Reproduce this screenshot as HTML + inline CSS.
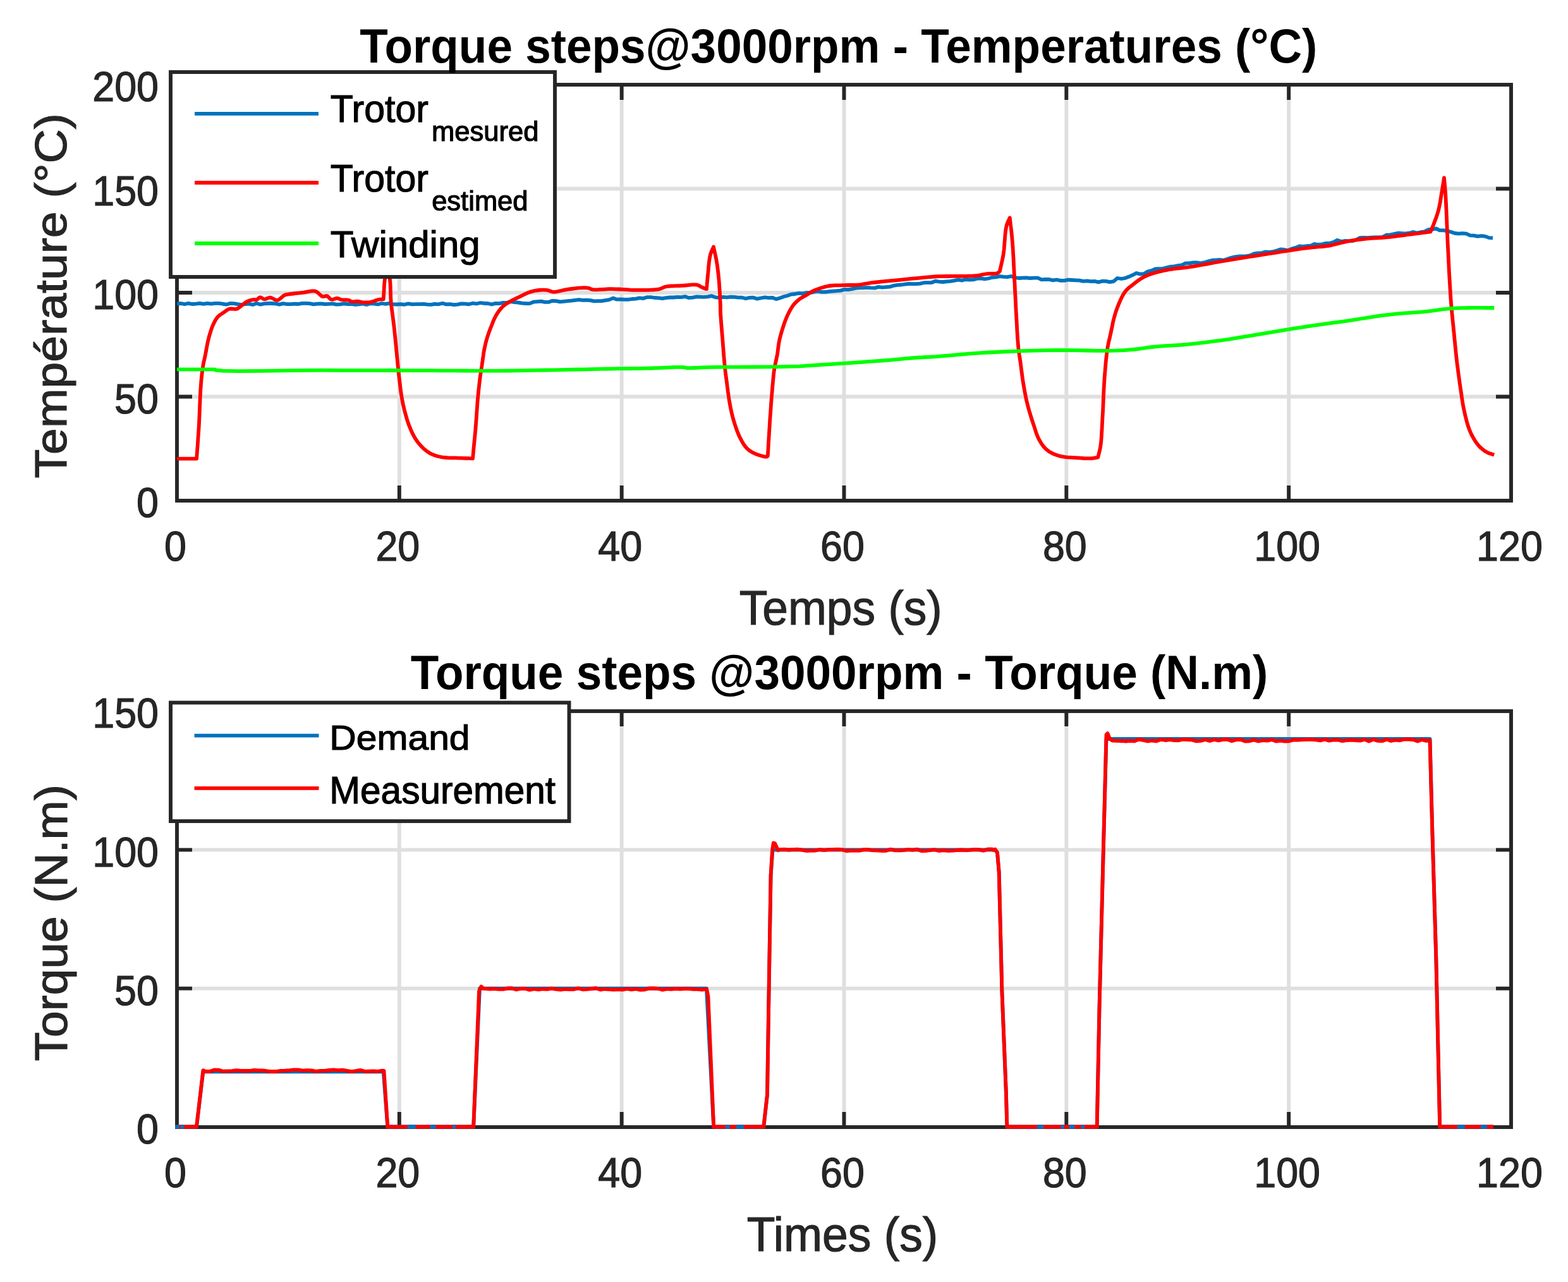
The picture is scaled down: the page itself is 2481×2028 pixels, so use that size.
<!DOCTYPE html>
<html><head><meta charset="utf-8"><title>Torque steps@3000rpm</title>
<style>
html,body{margin:0;padding:0;background:#fff;}
body{width:2481px;height:2028px;overflow:hidden;}
svg{display:block;}
text{font-family:"Liberation Sans",sans-serif;font-size:200px;}
</style></head><body>
<svg width="2481" height="2028" viewBox="0 0 2481 2028">
<defs>
<clipPath id="c1"><rect x="277.0" y="131.0" width="2117.0" height="664.0"/></clipPath>
<clipPath id="c2"><rect x="277.0" y="1122.0" width="2117.0" height="664.0"/></clipPath>
</defs>
<rect width="2481" height="2028" fill="#fff"/>
<path d="M631.83,134.0V792.0M983.67,134.0V792.0M1335.50,134.0V792.0M1687.33,134.0V792.0M2039.17,134.0V792.0M280.0,627.50H2391.0M280.0,463.00H2391.0M280.0,298.50H2391.0" stroke="#262626" stroke-opacity="0.15" stroke-width="5.9" fill="none"/>
<path d="M631.83,792.0V768.0M631.83,134.0V158.0M983.67,792.0V768.0M983.67,134.0V158.0M1335.50,792.0V768.0M1335.50,134.0V158.0M1687.33,792.0V768.0M1687.33,134.0V158.0M2039.17,792.0V768.0M2039.17,134.0V158.0M280.0,627.50H304.0M2391.0,627.50H2367.0M280.0,463.00H304.0M2391.0,463.00H2367.0M280.0,298.50H304.0M2391.0,298.50H2367.0" stroke="#262626" stroke-width="5.9" fill="none"/>
<rect x="280.0" y="134.0" width="2111.0" height="658.0" fill="none" stroke="#262626" stroke-width="5.9" stroke-linejoin="miter"/>
<path d="M631.83,1125.0V1783.0M983.67,1125.0V1783.0M1335.50,1125.0V1783.0M1687.33,1125.0V1783.0M2039.17,1125.0V1783.0M280.0,1563.67H2391.0M280.0,1344.33H2391.0" stroke="#262626" stroke-opacity="0.15" stroke-width="5.9" fill="none"/>
<path d="M631.83,1783.0V1759.0M631.83,1125.0V1149.0M983.67,1783.0V1759.0M983.67,1125.0V1149.0M1335.50,1783.0V1759.0M1335.50,1125.0V1149.0M1687.33,1783.0V1759.0M1687.33,1125.0V1149.0M2039.17,1783.0V1759.0M2039.17,1125.0V1149.0M280.0,1563.67H304.0M2391.0,1563.67H2367.0M280.0,1344.33H304.0M2391.0,1344.33H2367.0" stroke="#262626" stroke-width="5.9" fill="none"/>
<rect x="280.0" y="1125.0" width="2111.0" height="658.0" fill="none" stroke="#262626" stroke-width="5.9" stroke-linejoin="miter"/>
<g clip-path="url(#c1)">
<polyline points="280.0,480.5 286.0,480.0 292.0,481.2 298.0,479.8 304.0,481.0 310.0,480.6 316.0,479.8 322.0,480.9 328.0,479.8 334.0,480.7 340.0,479.8 346.0,479.9 352.0,480.7 358.0,481.7 364.0,480.0 370.0,480.2 376.0,481.2 382.0,482.0 388.0,481.1 394.0,480.6 400.0,482.0 406.0,479.8 412.0,481.7 418.0,480.4 424.0,480.0 430.0,480.0 436.0,480.4 442.0,481.6 448.0,480.1 454.0,481.1 460.0,481.2 466.0,480.6 472.0,481.0 478.0,479.8 484.0,479.8 490.0,480.2 496.0,481.3 502.0,480.7 508.0,480.4 514.0,481.1 520.0,480.8 526.0,480.4 532.0,481.6 538.0,481.4 544.0,480.3 550.0,481.1 556.0,480.9 562.0,481.8 568.0,481.4 574.0,480.4 580.0,482.0 586.0,480.0 592.0,480.7 598.0,481.5 604.0,480.0 610.0,480.8 616.0,479.8 622.0,481.3 628.0,481.5 634.0,481.1 640.0,481.8 646.0,480.4 652.0,481.3 658.0,481.1 664.0,481.1 670.0,480.8 676.0,481.7 682.0,481.9 688.0,480.8 694.0,481.3 700.0,479.8 706.0,481.4 712.0,481.2 718.0,482.1 724.0,481.6 730.0,480.4 736.0,480.6 742.0,481.3 748.0,479.7 754.0,480.5 760.0,479.0 766.0,479.9 772.0,480.0 778.0,481.5 784.0,479.9 790.0,480.1 796.0,478.8 802.0,478.8 808.0,477.1 814.0,478.1 820.0,478.6 826.0,479.7 832.0,480.0 838.0,480.1 844.0,477.7 850.0,477.1 856.0,476.7 862.0,477.8 868.0,477.9 874.0,475.8 880.0,476.1 886.0,477.4 892.0,476.8 898.0,476.2 904.0,475.7 910.0,474.8 916.0,474.1 922.0,474.9 928.0,474.7 934.0,475.1 940.0,476.4 946.0,476.1 952.0,476.1 958.0,475.2 964.0,474.2 970.0,471.6 976.0,473.7 982.0,473.5 988.0,473.9 994.0,473.8 1000.0,473.0 1006.0,472.7 1012.0,471.4 1018.0,472.1 1024.0,470.1 1030.0,470.2 1036.0,471.0 1042.0,471.3 1048.0,472.2 1054.0,471.1 1060.0,470.5 1066.0,470.5 1072.0,469.9 1078.0,470.1 1084.0,469.1 1090.0,471.2 1096.0,470.6 1102.0,469.4 1108.0,469.7 1114.0,469.9 1120.0,469.4 1126.0,468.2 1132.0,470.3 1138.0,470.9 1144.0,469.9 1150.0,470.3 1156.0,469.6 1162.0,469.8 1168.0,470.6 1174.0,470.7 1180.0,472.3 1186.0,470.9 1192.0,470.7 1198.0,472.7 1204.0,471.5 1210.0,470.4 1216.0,471.1 1222.0,470.8 1228.0,473.1 1234.0,471.5 1240.0,469.3 1246.0,467.7 1252.0,465.6 1258.0,465.0 1264.0,463.8 1270.0,464.4 1276.0,463.0 1282.0,463.1 1288.0,461.6 1294.0,460.9 1300.0,461.9 1306.0,461.8 1312.0,461.1 1318.0,460.6 1324.0,460.2 1330.0,459.6 1336.0,457.9 1342.0,458.1 1348.0,457.1 1354.0,455.8 1360.0,455.3 1366.0,455.4 1372.0,454.9 1378.0,455.4 1384.0,455.6 1390.0,453.9 1396.0,454.6 1402.0,454.2 1408.0,453.7 1414.0,451.8 1420.0,450.9 1426.0,450.5 1432.0,449.7 1438.0,449.0 1444.0,449.2 1450.0,449.2 1456.0,448.6 1462.0,447.2 1468.0,447.1 1474.0,447.0 1480.0,444.7 1486.0,445.7 1492.0,446.0 1498.0,445.3 1504.0,444.9 1510.0,443.9 1516.0,442.7 1522.0,443.6 1528.0,442.0 1534.0,442.5 1540.0,442.4 1546.0,440.6 1552.0,440.3 1558.0,441.3 1564.0,440.5 1570.0,438.8 1576.0,438.3 1582.0,437.2 1588.0,437.9 1594.0,438.1 1600.0,437.0 1606.0,439.2 1612.0,440.0 1618.0,439.6 1624.0,439.3 1630.0,440.2 1636.0,439.6 1642.0,439.7 1648.0,442.4 1654.0,442.0 1660.0,442.0 1666.0,443.4 1672.0,442.5 1678.0,443.8 1684.0,443.9 1690.0,442.7 1696.0,443.0 1702.0,443.3 1708.0,443.6 1714.0,444.8 1720.0,444.3 1726.0,445.1 1732.0,444.8 1738.0,446.4 1744.0,444.7 1750.0,444.8 1756.0,446.1 1762.0,445.1 1768.0,440.0 1774.0,441.0 1780.0,440.0 1786.0,437.8 1792.0,435.2 1798.0,432.0 1804.0,433.6 1810.0,433.2 1816.0,429.5 1822.0,428.1 1828.0,425.5 1834.0,425.2 1840.0,424.8 1846.0,423.4 1852.0,421.9 1858.0,421.4 1864.0,420.2 1870.0,419.4 1876.0,416.3 1882.0,416.4 1888.0,415.4 1894.0,415.3 1900.0,416.3 1906.0,415.2 1912.0,413.3 1918.0,411.7 1924.0,411.3 1930.0,410.8 1936.0,411.8 1942.0,409.8 1948.0,407.7 1954.0,406.3 1960.0,405.5 1966.0,405.5 1972.0,405.2 1978.0,404.1 1984.0,401.4 1990.0,400.4 1996.0,400.3 2002.0,398.5 2008.0,398.8 2014.0,398.2 2020.0,396.6 2026.0,394.5 2032.0,395.0 2038.0,396.2 2044.0,393.5 2050.0,391.9 2056.0,389.5 2062.0,389.8 2068.0,389.2 2074.0,388.6 2080.0,386.0 2086.0,387.0 2092.0,386.4 2098.0,384.8 2104.0,384.8 2110.0,383.1 2116.0,379.9 2122.0,382.0 2128.0,381.0 2134.0,381.3 2140.0,381.1 2146.0,379.3 2152.0,376.2 2158.0,375.9 2164.0,376.1 2170.0,375.7 2176.0,375.4 2182.0,375.4 2188.0,374.8 2194.0,371.6 2200.0,371.4 2206.0,370.1 2212.0,368.7 2218.0,369.1 2224.0,369.4 2230.0,368.7 2236.0,367.0 2242.0,368.6 2248.0,367.2 2254.0,366.4 2260.0,363.2 2266.0,362.8 2272.0,361.5 2278.0,364.3 2284.0,364.3 2290.0,365.3 2296.0,367.0 2302.0,369.0 2308.0,369.6 2314.0,369.1 2320.0,369.7 2326.0,372.4 2332.0,372.6 2338.0,373.8 2344.0,373.2 2350.0,373.9 2356.0,376.1 2362.0,376.3" fill="none" stroke="#0072BD" stroke-width="5.8" stroke-linejoin="round" stroke-linecap="butt" />
<polyline points="280.0,725.6 311.1,725.6 311.7,717.5 312.3,709.5 312.9,701.6 313.4,693.5 314.0,685.2 314.6,676.5 315.2,665.3 315.7,653.3 316.2,640.9 316.7,628.7 317.3,617.4 318.0,607.4 318.5,601.6 319.0,596.1 319.6,591.0 320.2,586.2 320.8,581.7 321.5,577.4 322.0,574.4 322.6,571.7 323.2,569.1 323.8,566.6 324.4,564.0 324.9,561.3 325.5,558.3 326.1,555.1 326.6,552.0 327.2,548.8 327.8,545.8 328.4,542.9 328.9,540.4 329.4,538.1 330.0,535.9 330.5,533.6 331.2,531.4 331.8,529.0 332.7,526.4 333.5,523.6 334.5,520.8 335.4,518.1 336.5,515.4 337.6,512.9 338.6,510.8 339.7,508.7 340.8,506.7 341.9,504.8 343.2,503.0 344.5,501.4 345.9,500.0 347.4,498.8 348.9,497.6 350.5,496.6 352.1,495.5 353.7,494.5 355.2,493.4 356.7,492.3 358.2,491.2 359.7,490.2 361.3,489.3 362.9,488.7 364.8,488.4 366.8,488.5 368.8,488.7 370.8,488.9 372.7,489.0 374.5,488.7 375.8,488.2 376.9,487.5 378.0,486.7 379.1,485.9 380.2,485.0 381.4,484.1 382.8,483.0 384.3,481.8 385.9,480.5 387.4,479.3 389.0,478.1 390.6,477.2 392.1,476.5 393.7,475.9 395.2,475.3 396.8,474.9 398.3,474.5 399.8,474.2 401.0,474.0 402.3,474.0 403.4,474.1 404.6,474.1 405.7,474.0 406.7,473.7 407.6,473.3 408.3,472.6 409.0,471.8 409.8,471.1 410.5,470.6 411.3,470.3 412.4,470.4 413.5,470.9 414.6,471.6 415.8,472.4 417.0,473.0 418.2,473.3 419.7,473.1 421.2,472.7 422.7,472.0 424.3,471.4 425.9,470.9 427.5,470.7 429.3,471.1 431.2,472.0 433.2,473.0 435.2,474.1 437.1,474.8 439.0,474.9 440.9,474.2 442.8,472.9 444.7,471.3 446.5,469.6 448.5,468.0 450.5,466.8 452.7,466.1 454.9,465.6 457.2,465.3 459.6,465.0 461.9,464.8 464.3,464.5 466.9,464.2 469.6,463.9 472.3,463.6 475.0,463.3 477.8,463.0 480.5,462.7 483.3,462.2 486.2,461.7 489.1,461.2 491.9,460.7 494.5,460.4 496.6,460.4 497.5,460.5 498.3,460.6 499.0,460.8 499.7,461.0 500.4,461.3 501.2,461.8 502.6,462.7 504.1,464.1 505.7,465.6 507.3,467.1 508.9,468.4 510.4,469.1 511.6,469.2 512.8,469.0 513.9,468.7 515.1,468.3 516.2,468.1 517.3,468.2 518.5,468.8 519.6,469.8 520.7,471.0 521.8,472.2 523.0,473.1 524.2,473.7 525.7,473.8 527.2,473.5 528.8,473.0 530.4,472.4 532.0,472.0 533.5,471.9 534.7,472.1 535.8,472.4 536.9,472.9 538.0,473.4 539.1,473.9 540.4,474.2 542.2,474.4 544.2,474.5 546.3,474.5 548.3,474.5 550.3,474.6 551.9,474.9 552.8,475.2 553.5,475.6 554.2,476.1 554.9,476.5 555.6,476.9 556.5,477.2 557.8,477.3 559.3,477.3 560.9,477.1 562.5,476.9 564.1,476.7 565.7,476.7 567.2,476.9 568.8,477.2 570.3,477.5 571.8,477.9 573.3,478.2 574.9,478.3 576.8,478.4 578.7,478.5 580.6,478.5 582.6,478.4 584.5,478.2 586.5,477.9 588.4,477.4 590.4,476.8 592.3,476.1 594.2,475.3 596.1,474.7 598.0,474.2 599.5,473.9 601.0,473.7 602.4,473.6 603.8,473.5 605.3,473.4 606.7,473.3 607.1,467.9 607.4,462.3 607.7,456.7 608.0,451.3 608.4,446.2 609.0,441.5 609.6,438.4 610.2,435.5 610.9,432.8 611.6,430.2 612.3,427.6 612.9,424.9 613.6,427.6 614.3,430.2 615.0,432.8 615.7,435.4 616.3,438.3 616.9,441.5 617.4,446.8 617.7,452.7 617.9,459.0 618.1,465.5 618.3,472.0 618.7,478.3 619.3,484.4 620.1,490.5 620.9,496.5 621.7,502.6 622.5,508.8 623.3,515.2 624.1,522.7 624.9,530.4 625.7,538.3 626.5,546.2 627.2,553.9 627.9,561.3 628.5,567.3 629.1,573.2 629.6,578.9 630.2,584.5 630.7,590.2 631.4,595.9 632.1,601.7 632.8,607.6 633.5,613.5 634.2,619.3 635.1,625.0 636.0,630.4 636.8,634.9 637.7,639.3 638.7,643.5 639.6,647.7 640.7,651.7 641.8,655.8 642.8,659.4 643.8,662.9 644.9,666.4 646.1,669.8 647.3,673.2 648.7,676.5 650.0,679.7 651.4,682.9 652.9,686.1 654.5,689.1 656.1,692.1 657.9,694.9 659.6,697.5 661.5,700.0 663.4,702.3 665.4,704.6 667.4,706.8 669.4,708.8 671.1,710.3 672.9,711.8 674.7,713.2 676.4,714.5 678.2,715.7 680.0,716.8 681.5,717.7 683.0,718.4 684.5,719.0 686.0,719.6 687.6,720.2 689.2,720.7 691.3,721.4 693.5,722.0 695.8,722.5 698.2,723.0 700.6,723.4 703.0,723.7 705.9,724.0 708.9,724.2 711.9,724.3 715.0,724.3 718.2,724.3 721.5,724.4 725.6,724.6 730.0,724.7 734.4,724.9 739.0,725.0 743.5,725.2 748.0,725.3 748.8,717.2 749.5,709.0 750.3,700.8 751.1,692.7 751.9,684.6 752.6,676.5 753.2,668.6 753.8,660.7 754.3,652.9 754.9,645.1 755.4,637.6 756.0,630.4 756.6,624.6 757.1,619.0 757.7,613.6 758.3,608.3 758.9,603.1 759.5,598.2 760.0,594.1 760.6,590.2 761.2,586.4 761.8,582.6 762.4,578.9 762.9,575.1 763.5,571.2 764.0,567.3 764.6,563.4 765.1,559.5 765.7,555.8 766.4,552.1 767.1,548.9 767.8,545.7 768.5,542.6 769.3,539.6 770.1,536.6 771.0,533.6 771.9,530.9 772.8,528.2 773.7,525.5 774.7,522.9 775.7,520.2 776.8,517.5 778.0,514.5 779.2,511.3 780.5,508.1 781.8,505.0 783.3,502.0 784.8,499.1 786.4,496.5 788.0,494.0 789.7,491.6 791.5,489.4 793.3,487.2 795.2,485.3 797.0,483.7 798.8,482.2 800.7,480.9 802.6,479.7 804.6,478.4 806.7,477.2 809.2,475.8 811.8,474.4 814.5,473.1 817.3,471.7 820.1,470.4 822.9,469.1 825.8,467.7 828.8,466.2 831.8,464.7 834.9,463.3 838.0,462.1 841.3,461.1 845.0,460.2 849.0,459.5 853.1,459.0 857.1,458.7 860.9,458.6 864.3,458.8 866.4,459.1 868.3,459.7 870.1,460.3 871.9,461.0 873.7,461.5 875.9,461.8 879.2,461.6 882.8,461.0 886.7,460.2 890.7,459.2 894.8,458.3 898.9,457.6 903.9,457.0 909.2,456.3 914.7,455.7 920.0,455.3 924.8,455.1 928.8,455.3 930.6,455.6 932.1,456.1 933.5,456.6 934.8,457.2 936.3,457.7 938.1,458.1 942.0,458.3 946.7,458.2 951.8,457.9 957.2,457.6 962.7,457.2 968.0,457.1 973.7,457.3 979.6,457.5 985.6,457.9 991.5,458.2 997.2,458.6 1002.6,458.8 1006.7,458.8 1010.7,458.9 1014.6,458.9 1018.3,458.9 1022.0,458.9 1025.6,458.8 1028.9,458.6 1032.2,458.5 1035.4,458.3 1038.5,458.0 1041.4,457.7 1044.1,457.1 1045.7,456.6 1047.2,456.0 1048.6,455.3 1049.9,454.6 1051.5,454.0 1053.3,453.5 1056.9,452.9 1061.2,452.5 1065.9,452.3 1070.7,452.1 1075.5,452.0 1080.0,451.8 1084.1,451.5 1088.3,451.1 1092.5,450.7 1096.5,450.4 1100.0,450.4 1103.0,450.7 1104.5,451.1 1105.7,451.6 1106.7,452.3 1107.8,452.9 1108.8,453.6 1110.0,454.1 1111.4,454.8 1113.1,455.5 1114.8,456.2 1116.3,456.8 1117.4,457.1 1118.0,457.1 1118.1,457.1 1118.1,457.0 1118.1,456.9 1118.0,456.9 1118.0,456.8 1118.0,456.7 1118.3,453.7 1118.6,450.7 1118.8,447.8 1119.1,444.8 1119.4,441.7 1119.7,438.2 1120.2,432.9 1120.8,426.9 1121.3,420.6 1122.0,414.4 1122.8,408.6 1123.8,403.7 1124.5,401.1 1125.4,398.8 1126.2,396.6 1127.2,394.6 1128.1,392.6 1129.0,390.4 1129.8,394.5 1130.8,398.6 1131.7,402.7 1132.6,406.8 1133.4,411.0 1134.1,415.2 1134.9,419.8 1135.5,424.5 1136.1,429.2 1136.6,434.0 1137.1,438.9 1137.6,444.0 1138.1,450.7 1138.6,458.1 1139.1,465.7 1139.4,473.0 1139.7,479.3 1139.9,484.3 1139.9,485.9 1139.9,487.2 1139.9,488.2 1139.9,489.3 1139.9,490.6 1139.9,492.2 1140.2,497.7 1140.7,504.8 1141.3,513.0 1142.0,521.6 1142.7,530.3 1143.4,538.2 1143.9,545.4 1144.5,552.5 1145.0,559.7 1145.6,566.6 1146.2,573.3 1146.8,579.7 1147.4,584.7 1147.9,589.4 1148.5,594.0 1149.1,598.5 1149.7,602.9 1150.3,607.4 1150.8,611.7 1151.4,616.0 1151.9,620.2 1152.5,624.4 1153.1,628.6 1153.7,632.7 1154.4,636.6 1155.1,640.5 1155.8,644.3 1156.6,648.1 1157.4,651.9 1158.3,655.8 1159.3,659.7 1160.4,663.6 1161.6,667.6 1162.8,671.5 1164.0,675.2 1165.3,678.8 1166.3,681.7 1167.4,684.5 1168.5,687.2 1169.6,689.8 1170.9,692.4 1172.2,694.9 1173.5,697.4 1174.9,699.9 1176.4,702.3 1178.0,704.6 1179.6,706.8 1181.4,708.8 1183.1,710.4 1184.8,711.9 1186.7,713.3 1188.6,714.5 1190.7,715.7 1192.9,716.8 1196.0,718.2 1199.7,719.6 1203.5,720.8 1207.2,721.8 1210.3,722.4 1212.5,722.6 1213.0,722.5 1213.4,722.3 1213.8,722.1 1214.1,721.9 1214.4,721.6 1214.8,721.4 1215.4,712.0 1215.9,702.4 1216.5,692.8 1217.1,683.4 1217.7,674.1 1218.2,665.0 1218.8,656.9 1219.4,649.0 1219.9,641.2 1220.5,633.6 1221.1,626.1 1221.7,618.9 1222.2,612.8 1222.7,606.7 1223.3,600.9 1223.8,595.1 1224.4,589.6 1225.2,584.3 1225.9,580.2 1226.6,576.3 1227.4,572.5 1228.3,568.8 1229.0,565.1 1229.8,561.3 1230.4,557.4 1230.9,553.6 1231.4,549.7 1231.9,545.8 1232.5,542.0 1233.2,538.2 1234.0,534.7 1234.9,531.2 1235.9,527.7 1236.9,524.3 1237.9,520.9 1239.0,517.5 1240.0,514.3 1241.1,511.2 1242.2,508.1 1243.4,505.0 1244.6,502.0 1245.9,499.1 1247.3,496.2 1248.7,493.4 1250.2,490.6 1251.8,487.8 1253.4,485.3 1255.1,482.9 1256.5,481.2 1258.0,479.5 1259.5,477.9 1261.1,476.5 1262.7,475.1 1264.3,473.7 1266.1,472.4 1268.0,471.2 1270.0,470.1 1271.9,469.0 1273.9,467.9 1275.9,466.8 1277.7,465.7 1279.5,464.5 1281.3,463.3 1283.2,462.1 1285.2,461.0 1287.4,459.9 1290.7,458.5 1294.4,457.1 1298.3,455.7 1302.4,454.5 1306.4,453.4 1310.4,452.5 1314.2,452.0 1318.1,451.6 1321.9,451.4 1325.8,451.3 1329.6,451.3 1333.5,451.2 1337.3,451.1 1341.1,451.0 1345.0,451.0 1348.8,451.0 1352.7,450.9 1356.5,450.7 1360.3,450.3 1363.9,449.8 1367.5,449.1 1371.3,448.5 1375.2,447.8 1379.5,447.2 1386.3,446.5 1393.6,445.7 1401.3,444.9 1409.4,444.2 1417.5,443.4 1425.6,442.6 1434.6,441.7 1444.0,440.7 1453.4,439.8 1462.8,438.8 1471.7,438.1 1480.0,437.5 1485.8,437.2 1491.2,437.1 1496.4,437.0 1501.4,437.0 1506.5,436.9 1511.7,436.9 1517.0,436.8 1522.5,436.8 1528.0,436.8 1533.4,436.7 1538.5,436.6 1543.3,436.2 1546.8,435.8 1550.1,435.3 1553.3,434.6 1556.3,434.0 1559.3,433.5 1562.3,433.1 1565.2,432.9 1568.2,432.8 1571.1,432.8 1573.8,432.8 1576.2,432.6 1578.2,432.1 1579.0,431.7 1579.7,431.2 1580.3,430.6 1580.8,430.1 1581.4,429.5 1582.0,428.9 1582.9,424.5 1583.9,420.2 1584.9,415.9 1585.9,411.5 1586.8,406.9 1587.7,402.0 1588.6,395.0 1589.2,387.1 1589.9,378.9 1590.5,370.9 1591.3,363.7 1592.4,357.7 1593.2,355.0 1594.1,352.6 1595.0,350.5 1595.9,348.5 1596.9,346.5 1597.8,344.4 1598.5,350.7 1599.2,357.0 1600.0,363.2 1600.7,369.6 1601.3,376.1 1601.9,383.0 1602.6,391.8 1603.1,401.1 1603.7,410.6 1604.1,420.4 1604.6,430.2 1605.1,440.0 1605.6,450.5 1606.1,461.2 1606.7,472.1 1607.2,482.8 1607.7,493.3 1608.3,503.4 1608.8,511.9 1609.2,520.4 1609.7,528.7 1610.2,536.6 1610.8,544.1 1611.4,550.9 1611.9,555.0 1612.4,558.7 1612.9,562.2 1613.5,565.6 1614.0,569.2 1614.6,573.0 1615.3,578.4 1616.0,584.1 1616.8,590.1 1617.6,596.1 1618.4,602.1 1619.4,607.9 1620.3,613.3 1621.2,618.6 1622.2,623.8 1623.3,629.1 1624.4,634.3 1625.7,639.5 1627.1,644.9 1628.6,650.3 1630.2,655.6 1631.8,661.0 1633.5,666.2 1635.2,671.2 1636.7,675.7 1638.1,680.2 1639.5,684.6 1641.1,688.8 1642.8,692.8 1644.7,696.6 1646.5,699.6 1648.4,702.5 1650.4,705.3 1652.5,707.8 1654.9,710.2 1657.4,712.4 1660.1,714.4 1663.1,716.1 1666.2,717.7 1669.5,719.0 1672.9,720.2 1676.4,721.3 1680.3,722.2 1684.5,722.8 1688.7,723.3 1693.1,723.6 1697.4,723.8 1701.7,724.1 1706.0,724.4 1710.6,724.7 1715.1,725.0 1719.4,725.1 1723.5,725.2 1727.0,725.1 1729.0,724.9 1730.8,724.7 1732.4,724.4 1734.0,724.1 1735.5,723.8 1737.2,723.5 1737.9,720.7 1738.6,718.0 1739.3,715.3 1740.0,712.5 1740.7,709.4 1741.3,706.1 1742.1,700.0 1742.7,693.1 1743.1,685.7 1743.6,677.8 1744.0,669.8 1744.4,661.7 1745.0,651.7 1745.5,641.1 1745.9,630.2 1746.4,619.2 1747.0,608.5 1747.6,598.4 1748.3,589.8 1749.0,581.4 1749.7,573.1 1750.5,565.1 1751.4,557.7 1752.4,550.9 1753.1,546.7 1753.8,542.9 1754.6,539.4 1755.4,536.0 1756.3,532.5 1757.1,528.7 1758.1,524.1 1759.1,519.3 1760.1,514.4 1761.1,509.5 1762.2,504.8 1763.5,500.2 1764.6,496.3 1765.8,492.4 1767.1,488.7 1768.5,485.1 1769.9,481.5 1771.4,478.0 1772.8,474.9 1774.2,471.8 1775.7,468.8 1777.3,465.9 1779.0,463.2 1780.9,460.6 1782.7,458.5 1784.7,456.5 1786.8,454.7 1789.0,453.0 1791.3,451.3 1793.5,449.5 1796.0,447.6 1798.5,445.6 1801.1,443.7 1803.8,441.8 1806.6,440.1 1809.4,438.4 1812.3,437.0 1815.4,435.6 1818.5,434.4 1821.7,433.3 1825.0,432.2 1828.4,431.2 1832.4,430.1 1836.5,429.1 1840.7,428.1 1845.1,427.3 1849.4,426.5 1853.7,425.8 1857.9,425.2 1862.0,424.7 1866.1,424.3 1870.4,423.9 1875.0,423.4 1880.0,422.7 1889.0,421.3 1899.1,419.5 1910.0,417.6 1921.2,415.5 1932.5,413.5 1943.4,411.6 1953.9,409.8 1964.5,408.1 1975.0,406.4 1985.6,404.8 1996.2,403.1 2006.7,401.5 2017.6,399.8 2028.7,398.0 2039.8,396.3 2050.6,394.7 2060.8,393.2 2070.1,392.0 2076.0,391.3 2081.5,390.8 2086.6,390.4 2091.7,390.0 2096.7,389.5 2101.8,388.8 2107.1,387.8 2112.4,386.5 2117.6,385.2 2122.9,383.8 2128.2,382.6 2133.5,381.5 2138.7,380.6 2144.0,379.8 2149.3,379.1 2154.6,378.5 2159.9,377.9 2165.2,377.4 2170.4,376.9 2175.7,376.6 2181.0,376.3 2186.3,376.0 2191.6,375.6 2196.9,375.2 2202.1,374.6 2207.4,373.9 2212.6,373.2 2217.9,372.5 2223.2,371.8 2228.5,371.0 2234.3,370.3 2240.0,369.6 2245.9,368.8 2251.7,368.1 2257.6,367.3 2263.4,366.6 2264.5,364.1 2265.5,361.6 2266.6,359.1 2267.7,356.6 2268.7,354.0 2269.7,351.4 2270.9,348.4 2272.0,345.3 2273.1,342.2 2274.1,339.0 2275.1,335.8 2276.1,332.4 2277.0,328.4 2277.9,324.2 2278.7,320.0 2279.4,315.7 2280.1,311.3 2280.8,307.0 2281.5,302.7 2282.2,298.4 2282.9,294.1 2283.6,289.7 2284.3,285.4 2284.9,281.1 2285.3,285.2 2285.7,289.2 2286.1,293.3 2286.4,297.4 2286.8,302.0 2287.2,307.0 2287.7,316.7 2288.3,327.9 2288.8,340.0 2289.3,352.5 2289.8,364.9 2290.3,376.7 2290.8,387.6 2291.4,398.4 2291.9,409.2 2292.4,419.8 2292.9,430.1 2293.5,440.1 2294.0,448.5 2294.5,456.8 2295.0,464.9 2295.5,472.8 2296.1,480.4 2296.7,487.6 2297.2,493.2 2297.7,498.4 2298.2,503.5 2298.7,508.5 2299.3,513.8 2299.8,519.3 2300.6,526.7 2301.3,534.5 2302.1,542.5 2302.9,550.7 2303.7,558.8 2304.6,566.9 2305.5,574.8 2306.6,582.9 2307.6,591.0 2308.7,598.9 2309.8,606.8 2310.9,614.4 2311.9,621.0 2312.8,627.5 2313.8,633.9 2314.8,640.2 2316.0,646.4 2317.3,652.4 2318.6,658.0 2320.0,663.5 2321.4,669.0 2323.0,674.3 2324.8,679.3 2326.8,684.1 2328.6,688.0 2330.6,691.7 2332.7,695.3 2334.8,698.7 2337.1,701.8 2339.4,704.7 2341.4,706.8 2343.5,708.8 2345.6,710.6 2347.7,712.3 2349.9,713.8 2352.1,715.1 2354.1,716.1 2356.1,717.0 2358.1,717.6 2360.1,718.3 2362.1,718.9 2364.2,719.6" fill="none" stroke="#FF0000" stroke-width="5.8" stroke-linejoin="round" stroke-linecap="butt" />
<polyline points="280.0,584.3 291.3,584.3 304.3,584.3 317.3,584.3 328.6,584.3 336.7,584.3 339.9,584.3 339.9,584.3 339.9,584.3 339.9,584.3 339.9,584.3 339.9,584.3 339.9,584.3 340.1,584.5 340.2,584.7 340.3,584.9 340.5,585.1 340.7,585.3 341.1,585.5 352.7,586.7 376.2,587.1 407.8,586.9 443.3,586.4 478.9,585.9 510.4,585.7 539.1,585.8 568.3,585.8 597.6,585.9 626.3,586.0 653.9,586.1 680.0,586.2 699.7,586.3 718.6,586.4 736.9,586.5 754.5,586.6 771.6,586.7 788.3,586.6 801.8,586.5 815.0,586.4 827.7,586.2 840.2,585.9 852.3,585.7 864.3,585.5 874.8,585.3 884.9,585.1 894.9,584.9 904.7,584.7 914.5,584.5 924.2,584.3 933.6,584.1 942.9,583.9 952.2,583.7 961.4,583.5 970.5,583.3 979.5,583.2 988.1,583.1 996.6,583.0 1005.1,582.9 1013.5,582.8 1021.8,582.7 1030.2,582.5 1039.1,582.2 1048.5,581.8 1058.0,581.3 1066.8,580.9 1074.3,580.8 1080.0,580.9 1081.5,581.0 1082.6,581.2 1083.5,581.5 1084.4,581.7 1085.5,581.9 1086.9,582.0 1091.3,582.1 1096.8,582.0 1103.1,581.8 1110.2,581.4 1117.9,581.1 1126.1,580.9 1143.9,580.7 1165.6,580.6 1189.3,580.5 1213.3,580.4 1235.9,580.2 1255.1,579.7 1265.7,579.3 1275.5,578.7 1284.5,578.1 1293.2,577.5 1301.8,576.9 1310.4,576.3 1318.3,575.8 1326.1,575.3 1333.7,574.8 1341.3,574.3 1348.9,573.8 1356.5,573.3 1364.2,572.8 1371.9,572.2 1379.5,571.7 1387.2,571.2 1394.9,570.6 1402.6,570.0 1410.4,569.4 1418.3,568.6 1426.2,567.9 1434.0,567.1 1441.5,566.5 1448.7,565.9 1454.1,565.5 1459.1,565.3 1464.0,565.0 1469.0,564.8 1474.2,564.5 1480.0,564.2 1489.3,563.4 1499.5,562.6 1510.3,561.6 1521.4,560.5 1532.5,559.6 1543.3,558.8 1553.9,558.1 1564.4,557.5 1575.0,557.0 1585.6,556.5 1596.1,556.0 1606.7,555.6 1617.1,555.2 1627.3,554.9 1637.6,554.6 1648.0,554.4 1658.7,554.2 1670.0,554.0 1685.3,554.0 1702.2,554.2 1719.5,554.5 1736.4,554.8 1751.9,554.9 1765.0,554.7 1771.3,554.4 1776.9,554.1 1781.9,553.8 1786.8,553.4 1791.6,553.0 1796.7,552.5 1801.9,551.9 1807.0,551.2 1812.1,550.4 1817.2,549.7 1822.6,549.0 1828.4,548.3 1836.2,547.7 1844.5,547.1 1853.1,546.6 1861.9,546.1 1871.0,545.5 1880.0,544.7 1890.2,543.6 1900.7,542.4 1911.3,541.1 1922.0,539.7 1932.7,538.3 1943.4,536.8 1953.9,535.2 1964.5,533.4 1975.1,531.7 1985.6,529.9 1996.2,528.1 2006.7,526.3 2017.3,524.6 2027.9,522.8 2038.4,521.1 2049.0,519.4 2059.5,517.8 2070.1,516.2 2080.7,514.6 2091.2,513.1 2101.8,511.7 2112.4,510.2 2122.9,508.8 2133.5,507.3 2144.0,505.7 2154.6,504.0 2165.2,502.3 2175.7,500.7 2186.3,499.1 2196.9,497.8 2207.7,496.7 2218.8,495.7 2229.9,494.9 2240.7,494.1 2250.9,493.3 2260.2,492.4 2266.1,491.7 2271.6,490.9 2276.7,490.2 2281.7,489.4 2286.8,488.8 2291.9,488.3 2297.1,487.9 2302.3,487.6 2307.5,487.4 2312.7,487.2 2318.1,487.1 2323.6,487.0 2330.1,486.9 2336.7,486.9 2343.6,486.9 2350.5,487.0 2357.3,487.0 2364.2,487.0" fill="none" stroke="#00FF00" stroke-width="5.8" stroke-linejoin="round" stroke-linecap="butt" />
</g>
<g clip-path="url(#c2)">
<polyline points="280.0,1782.5 311.0,1782.5 321.4,1695.3 606.7,1695.3 613.3,1782.5 749.2,1782.5 759.0,1563.7 1117.9,1563.7 1129.2,1782.5 1208.3,1782.5 1214.0,1731.8 1216.8,1554.0 1219.6,1384.7 1222.5,1344.3 1574.4,1344.3 1578.0,1348.7 1580.7,1379.4 1585.4,1568.1 1591.8,1726.0 1593.4,1782.5 1735.7,1782.5 1739.6,1590.0 1745.5,1357.5 1750.5,1168.9 2262.5,1168.9 2266.4,1318.0 2272.3,1515.4 2278.2,1782.5 2363.0,1782.5" fill="none" stroke="#0072BD" stroke-width="5.8" stroke-linejoin="round" stroke-linecap="butt" />
<polyline points="280.0,1782.5 311.0,1782.5 321.4,1693.1 325.0,1695.0 332.0,1695.0 339.0,1692.5 346.0,1692.6 353.0,1694.7 360.0,1694.4 367.0,1694.2 374.0,1693.2 381.0,1694.0 388.0,1694.0 395.0,1694.0 402.0,1692.8 409.0,1693.5 416.0,1693.4 423.0,1694.4 430.0,1695.1 437.0,1695.0 444.0,1693.9 451.0,1693.6 458.0,1693.1 465.0,1692.4 472.0,1692.4 479.0,1693.6 486.0,1693.2 493.0,1693.4 500.0,1694.8 507.0,1693.8 514.0,1693.9 521.0,1693.0 528.0,1692.4 535.0,1693.2 542.0,1692.7 549.0,1693.8 556.0,1695.1 563.0,1694.2 570.0,1692.8 577.0,1694.8 584.0,1694.6 591.0,1694.4 598.0,1694.9 605.0,1693.7 607.5,1694.0 613.3,1782.5 749.2,1782.5 758.0,1568.1 761.5,1560.6 765.0,1563.7 768.0,1563.8 775.0,1564.7 782.0,1564.2 789.0,1564.8 796.0,1564.9 803.0,1563.3 810.0,1563.2 817.0,1565.5 824.0,1563.9 831.0,1563.8 838.0,1565.9 845.0,1564.5 852.0,1565.5 859.0,1564.5 866.0,1564.9 873.0,1563.6 880.0,1564.9 887.0,1565.6 894.0,1564.6 901.0,1565.2 908.0,1565.0 915.0,1563.3 922.0,1565.3 929.0,1564.8 936.0,1564.0 943.0,1563.2 950.0,1565.6 957.0,1564.5 964.0,1565.2 971.0,1565.6 978.0,1565.1 985.0,1565.7 992.0,1564.2 999.0,1565.4 1006.0,1564.4 1013.0,1565.8 1020.0,1565.6 1027.0,1563.4 1034.0,1563.5 1041.0,1563.8 1048.0,1565.8 1055.0,1564.4 1062.0,1564.9 1069.0,1564.0 1076.0,1564.6 1083.0,1564.2 1090.0,1564.1 1097.0,1564.8 1104.0,1564.8 1111.0,1565.7 1117.0,1564.5 1118.5,1565.9 1120.5,1576.8 1129.2,1782.5 1208.3,1782.5 1214.0,1731.8 1216.8,1554.0 1219.6,1384.7 1222.0,1345.0 1223.8,1333.5 1226.0,1334.0 1231.0,1345.0 1234.0,1344.0 1241.0,1343.7 1248.0,1344.5 1255.0,1343.8 1262.0,1343.6 1269.0,1344.5 1276.0,1345.9 1283.0,1345.6 1290.0,1345.5 1297.0,1344.0 1304.0,1344.9 1311.0,1344.1 1318.0,1343.9 1325.0,1343.7 1332.0,1344.0 1339.0,1346.0 1346.0,1345.7 1353.0,1345.6 1360.0,1345.6 1367.0,1343.9 1374.0,1344.2 1381.0,1345.1 1388.0,1345.4 1395.0,1345.8 1402.0,1345.8 1409.0,1343.6 1416.0,1345.1 1423.0,1345.3 1430.0,1344.8 1437.0,1343.9 1444.0,1344.7 1451.0,1343.6 1458.0,1346.0 1465.0,1345.8 1472.0,1344.9 1479.0,1344.2 1486.0,1345.9 1493.0,1345.0 1500.0,1345.8 1507.0,1345.7 1514.0,1344.8 1521.0,1344.5 1528.0,1345.0 1535.0,1344.6 1542.0,1343.8 1549.0,1344.2 1556.0,1345.6 1563.0,1343.5 1570.0,1343.5 1572.0,1344.8 1574.4,1343.5 1578.0,1348.7 1580.7,1379.4 1585.4,1568.1 1591.8,1726.0 1593.4,1782.5 1735.7,1782.5 1739.6,1590.0 1745.5,1357.5 1750.5,1162.3 1752.5,1160.1 1756.0,1168.9 1760.0,1171.5 1767.0,1171.8 1774.0,1172.0 1781.0,1172.5 1788.0,1171.8 1795.0,1172.4 1802.0,1169.6 1809.0,1170.9 1816.0,1172.5 1823.0,1171.5 1830.0,1172.3 1837.0,1169.8 1844.0,1171.0 1851.0,1170.2 1858.0,1171.2 1865.0,1171.3 1872.0,1169.5 1879.0,1170.2 1886.0,1170.4 1893.0,1172.4 1900.0,1171.9 1907.0,1170.0 1914.0,1172.0 1921.0,1169.9 1928.0,1171.4 1935.0,1169.9 1942.0,1169.5 1949.0,1172.2 1956.0,1170.1 1963.0,1170.1 1970.0,1172.6 1977.0,1172.3 1984.0,1170.4 1991.0,1172.5 1998.0,1171.2 2005.0,1171.6 2012.0,1170.1 2019.0,1172.5 2026.0,1171.7 2033.0,1172.6 2040.0,1172.3 2047.0,1170.4 2054.0,1170.6 2061.0,1170.0 2068.0,1169.9 2075.0,1169.7 2082.0,1170.4 2089.0,1171.4 2096.0,1169.5 2103.0,1171.6 2110.0,1170.5 2117.0,1170.5 2124.0,1172.1 2131.0,1171.0 2138.0,1170.5 2145.0,1171.0 2152.0,1171.7 2159.0,1169.6 2166.0,1172.6 2173.0,1169.5 2180.0,1171.9 2187.0,1172.2 2194.0,1169.5 2201.0,1172.0 2208.0,1170.6 2215.0,1171.3 2222.0,1169.5 2229.0,1169.6 2236.0,1170.0 2243.0,1172.5 2250.0,1170.1 2257.0,1171.9 2260.0,1171.1 2262.5,1171.1 2266.4,1318.0 2272.3,1515.4 2278.2,1782.5 2363.0,1782.5" fill="none" stroke="#FF0000" stroke-width="5.8" stroke-linejoin="round" stroke-linecap="butt" />
<path d="M277,1782.5H283.8M286,1782.5H291.5M644.6,1782.5H657.8M680.7,1782.5H689.3M716.1,1782.5H721.1M1147.8,1782.5H1154.1M1165.0,1782.5H1176.9M1640.8,1782.5H1651.0M1678.7,1782.5H1683.4M1691.9,1782.5H1700.7M1710.6,1782.5H1715.7M2305.9,1782.5H2318.1M2342.8,1782.5H2352.8" stroke="#0072BD" stroke-width="5.8" fill="none"/>
</g>
<rect x="270" y="114" width="608" height="324" fill="#fff" stroke="#262626" stroke-width="5.9"/>
<path d="M308,179.9H504" stroke="#0072BD" stroke-width="5.8"/>
<path d="M308,289H504" stroke="#FF0000" stroke-width="5.8"/>
<path d="M308,385H504" stroke="#00FF00" stroke-width="5.8"/>
<rect x="270" y="1111.5" width="630.5" height="187.5" fill="#fff" stroke="#262626" stroke-width="5.9"/>
<path d="M307.6,1163.6H504.5" stroke="#0072BD" stroke-width="5.8"/>
<path d="M307.6,1246.9H504.5" stroke="#FF0000" stroke-width="5.8"/>
<text transform="translate(569.37,98.80) scale(0.36442,0.37986)" font-weight="bold" fill="#000">Torque steps@3000rpm - Temperatures (°C)</text>
<text transform="translate(649.77,1090.00) scale(0.36456,0.38129)" font-weight="bold" fill="#000">Torque steps @3000rpm - Torque (N.m)</text>
<text transform="translate(1169.74,988.00) scale(0.36566,0.38058)" font-weight="normal" fill="#262626" stroke="#262626" stroke-width="1.2" vector-effect="non-scaling-stroke">Temps (s)</text>
<text transform="translate(1181.73,1978.80) scale(0.36642,0.37770)" font-weight="normal" fill="#262626" stroke="#262626" stroke-width="1.2" vector-effect="non-scaling-stroke">Times (s)</text>
<text transform="translate(104.50,756.50) rotate(-90) scale(0.37592,0.35396)" font-weight="normal" fill="#262626" stroke="#262626" stroke-width="1.2" vector-effect="non-scaling-stroke">Température (°C)</text>
<text transform="translate(106.40,1678.40) rotate(-90) scale(0.37480,0.36403)" font-weight="normal" fill="#262626" stroke="#262626" stroke-width="1.2" vector-effect="non-scaling-stroke">Torque (N.m)</text>
<text transform="translate(522.72,193.00) scale(0.29499,0.30719)" font-weight="normal" fill="#000" stroke="#000" stroke-width="1.2" vector-effect="non-scaling-stroke">Trotor</text>
<text transform="translate(683.07,222.90) scale(0.21766,0.22000)" font-weight="normal" fill="#000" stroke="#000" stroke-width="1.2" vector-effect="non-scaling-stroke">mesured</text>
<text transform="translate(522.72,303.00) scale(0.29499,0.30719)" font-weight="normal" fill="#000" stroke="#000" stroke-width="1.2" vector-effect="non-scaling-stroke">Trotor</text>
<text transform="translate(683.16,332.90) scale(0.21765,0.22000)" font-weight="normal" fill="#000" stroke="#000" stroke-width="1.2" vector-effect="non-scaling-stroke">estimed</text>
<text transform="translate(522.70,407.00) scale(0.30039,0.29928)" font-weight="normal" fill="#000" stroke="#000" stroke-width="1.2" vector-effect="non-scaling-stroke">Twinding</text>
<text transform="translate(521.29,1186.00) scale(0.29409,0.27586)" font-weight="normal" fill="#000" stroke="#000" stroke-width="1.2" vector-effect="non-scaling-stroke">Demand</text>
<text transform="translate(521.32,1270.90) scale(0.29270,0.30145)" font-weight="normal" fill="#000" stroke="#000" stroke-width="1.2" vector-effect="non-scaling-stroke">Measurement</text>
<text transform="translate(215.94,818.20) scale(0.31400,0.33190)" fill="#262626" stroke="#262626" stroke-width="1.2" vector-effect="non-scaling-stroke">0</text>
<text transform="translate(181.09,653.70) scale(0.31400,0.33190)" fill="#262626" stroke="#262626" stroke-width="1.2" vector-effect="non-scaling-stroke">50</text>
<text transform="translate(146.24,489.20) scale(0.31400,0.33190)" fill="#262626" stroke="#262626" stroke-width="1.2" vector-effect="non-scaling-stroke">100</text>
<text transform="translate(146.24,324.70) scale(0.31400,0.33190)" fill="#262626" stroke="#262626" stroke-width="1.2" vector-effect="non-scaling-stroke">150</text>
<text transform="translate(146.24,160.20) scale(0.31400,0.33190)" fill="#262626" stroke="#262626" stroke-width="1.2" vector-effect="non-scaling-stroke">200</text>
<text transform="translate(215.94,1809.20) scale(0.31400,0.33190)" fill="#262626" stroke="#262626" stroke-width="1.2" vector-effect="non-scaling-stroke">0</text>
<text transform="translate(181.09,1589.87) scale(0.31400,0.33190)" fill="#262626" stroke="#262626" stroke-width="1.2" vector-effect="non-scaling-stroke">50</text>
<text transform="translate(146.24,1370.53) scale(0.31400,0.33190)" fill="#262626" stroke="#262626" stroke-width="1.2" vector-effect="non-scaling-stroke">100</text>
<text transform="translate(146.24,1151.20) scale(0.31400,0.33190)" fill="#262626" stroke="#262626" stroke-width="1.2" vector-effect="non-scaling-stroke">150</text>
<text transform="translate(277.50,887.07) scale(0.31400,0.33190)" text-anchor="middle" fill="#262626" stroke="#262626" stroke-width="1.2" vector-effect="non-scaling-stroke">0</text>
<text transform="translate(277.50,1878.07) scale(0.31400,0.33190)" text-anchor="middle" fill="#262626" stroke="#262626" stroke-width="1.2" vector-effect="non-scaling-stroke">0</text>
<text transform="translate(629.33,887.07) scale(0.31400,0.33190)" text-anchor="middle" fill="#262626" stroke="#262626" stroke-width="1.2" vector-effect="non-scaling-stroke">20</text>
<text transform="translate(629.33,1878.07) scale(0.31400,0.33190)" text-anchor="middle" fill="#262626" stroke="#262626" stroke-width="1.2" vector-effect="non-scaling-stroke">20</text>
<text transform="translate(981.17,887.07) scale(0.31400,0.33190)" text-anchor="middle" fill="#262626" stroke="#262626" stroke-width="1.2" vector-effect="non-scaling-stroke">40</text>
<text transform="translate(981.17,1878.07) scale(0.31400,0.33190)" text-anchor="middle" fill="#262626" stroke="#262626" stroke-width="1.2" vector-effect="non-scaling-stroke">40</text>
<text transform="translate(1333.00,887.07) scale(0.31400,0.33190)" text-anchor="middle" fill="#262626" stroke="#262626" stroke-width="1.2" vector-effect="non-scaling-stroke">60</text>
<text transform="translate(1333.00,1878.07) scale(0.31400,0.33190)" text-anchor="middle" fill="#262626" stroke="#262626" stroke-width="1.2" vector-effect="non-scaling-stroke">60</text>
<text transform="translate(1684.83,887.07) scale(0.31400,0.33190)" text-anchor="middle" fill="#262626" stroke="#262626" stroke-width="1.2" vector-effect="non-scaling-stroke">80</text>
<text transform="translate(1684.83,1878.07) scale(0.31400,0.33190)" text-anchor="middle" fill="#262626" stroke="#262626" stroke-width="1.2" vector-effect="non-scaling-stroke">80</text>
<text transform="translate(2036.67,887.07) scale(0.31400,0.33190)" text-anchor="middle" fill="#262626" stroke="#262626" stroke-width="1.2" vector-effect="non-scaling-stroke">100</text>
<text transform="translate(2036.67,1878.07) scale(0.31400,0.33190)" text-anchor="middle" fill="#262626" stroke="#262626" stroke-width="1.2" vector-effect="non-scaling-stroke">100</text>
<text transform="translate(2388.50,887.07) scale(0.31400,0.33190)" text-anchor="middle" fill="#262626" stroke="#262626" stroke-width="1.2" vector-effect="non-scaling-stroke">120</text>
<text transform="translate(2388.50,1878.07) scale(0.31400,0.33190)" text-anchor="middle" fill="#262626" stroke="#262626" stroke-width="1.2" vector-effect="non-scaling-stroke">120</text>
</svg>
</body></html>
